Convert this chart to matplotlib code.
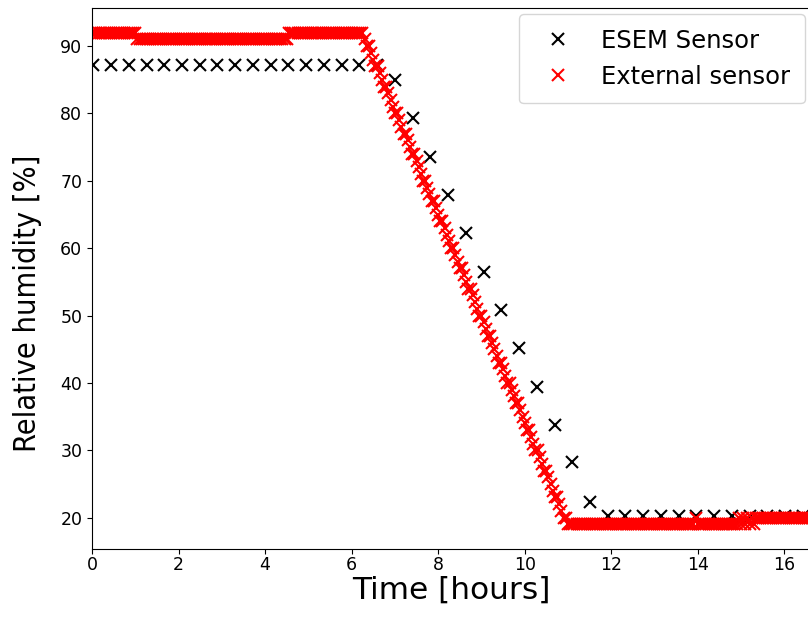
import numpy as np
import matplotlib
matplotlib.use('Agg')
import matplotlib.pyplot as plt

# ESEM sensor (one reading roughly every 25 min)
esem_time = [0.03, 0.44, 0.85, 1.26, 1.67, 2.08, 2.49, 2.90, 3.31, 3.72,
             4.13, 4.54, 4.95, 5.36, 5.77, 6.18, 6.59, 7.00, 7.41, 7.82,
             8.23, 8.64, 9.05, 9.46, 9.87, 10.28, 10.69, 11.10, 11.51, 11.92,
             12.33, 12.74, 13.15, 13.56, 13.97, 14.38, 14.79, 15.20, 15.61, 16.02,
             16.43]
esem_rh = [87.2] * 17 + [85.0, 79.3, 73.6, 67.9, 62.2, 56.5, 50.8, 45.2, 39.4,
                         33.8, 28.2, 22.3] + [20.3] * 12

# External sensor (one reading every 3 min, integer %)
ext_step = 0.05
ext_rh = ([92] * 21 + [91] * 70 + [92] * 35 +
          [91, 90, 90, 89, 88, 87, 87, 86, 85, 84, 84, 83, 82, 81, 80, 80, 79, 78,
           77, 77, 76, 75, 74, 74, 73, 72, 71, 70, 70, 69, 68, 67, 67, 66, 65, 64,
           64, 63, 62, 61, 60, 60, 59, 58, 57, 57, 56, 55, 54, 54, 53, 52, 51, 50,
           50, 49, 48, 47, 47, 46, 45, 44, 43, 43, 42, 41, 40, 40, 39, 38, 37, 37,
           36, 35, 34, 33, 33, 32, 31, 30, 30, 29, 28, 27, 27, 26, 25, 24, 23, 23,
           22, 21, 20, 20, 19] +
          [19] * 58 + [20] + [19] * 19 + [20, 19, 20, 19, 20, 19, 20, 19] +
          [20] * 28)
ext_time = np.arange(len(ext_rh)) * ext_step

fig = plt.figure(figsize=(8.08, 6.21), dpi=100)
ax = fig.add_axes([0.1139, 0.1159, 0.8899, 0.8712])

ax.plot(esem_time, esem_rh, 'x', color='black', markersize=9, mew=1.5,
        label='ESEM Sensor')
ax.plot(ext_time, ext_rh, 'x', color='red', markersize=9, mew=1.5,
        label='External sensor')

ax.set_xlim(0, 16.62)
ax.set_xlabel('Time [hours]', fontsize=22.5, labelpad=1)
ax.set_ylabel('Relative humidity [%]', fontsize=22, fontstretch='condensed')
ax.yaxis.set_label_coords(-0.0695, 0.455)
ax.tick_params(labelsize=12.5)
ax.tick_params(axis='x', pad=1.5)
ax.legend(loc='upper right', fontsize=17.5, borderpad=0.6, borderaxespad=0.25)

fig.savefig('out.png', dpi=100)
